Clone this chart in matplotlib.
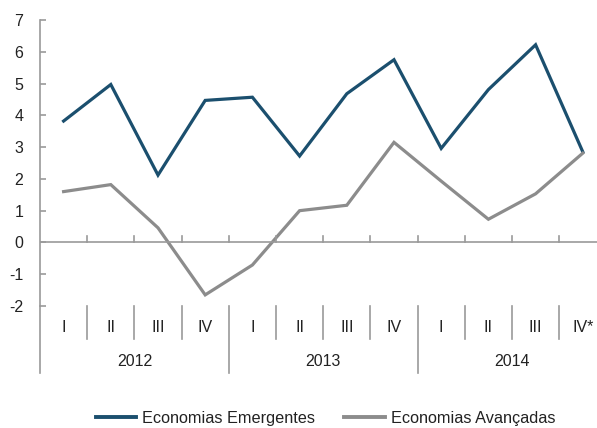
import matplotlib
matplotlib.use("Agg")
import matplotlib.pyplot as plt
from matplotlib.lines import Line2D

plt.rcParams['font.family'] = ['Liberation Sans', 'DejaVu Sans']

quarters = ["I", "II", "III", "IV", "I", "II", "III", "IV", "I", "II", "III", "IV*"]
years = ["2012", "2013", "2014"]
emergentes = [3.82, 4.97, 2.12, 4.47, 4.57, 2.72, 4.68, 5.75, 2.96, 4.81, 6.22, 2.85]
avancadas = [1.60, 1.82, 0.46, -1.65, -0.71, 1.00, 1.17, 3.15, 1.93, 0.73, 1.53, 2.81]
yticks = [-2, -1, 0, 1, 2, 3, 4, 5, 6, 7]

dark = "#1b4f6e"
grey = "#8c8c8c"
axis_col = "#9a9a9a"
text_col = "#222222"

W, H = 597, 428
fig = plt.figure(figsize=(W / 100, H / 100), dpi=100)

left_px, top_px, bottom_px = 40, 20, 306
cat_w = 47.2
n = len(quarters)
ax = fig.add_axes([left_px / W, (H - bottom_px) / H,
                   n * cat_w / W, (bottom_px - top_px) / H])

x = list(range(n))
ax.plot(x, emergentes, color=dark, lw=2.3, solid_joinstyle="miter")
ax.plot(x, avancadas, color=grey, lw=2.3, solid_joinstyle="miter")

ax.set_xlim(-0.5, n - 0.5)
ax.set_ylim(-2, 7)

for s in ["top", "right", "bottom"]:
    ax.spines[s].set_visible(False)
ax.spines["left"].set_color(axis_col)
ax.spines["left"].set_linewidth(1.2)

ax.set_yticks(yticks)
ax.set_yticklabels([str(v) for v in yticks])
ax.tick_params(axis="y", direction="in", length=4, width=1.2, color=axis_col,
               labelsize=11.5, labelcolor=text_col, pad=12)
ax.set_xticks([])

# zero line with small upward ticks at the quarter boundaries
ax.axhline(0, color=axis_col, lw=1.2, xmin=0, xmax=1)
for k in range(1, n):
    ax.plot([k - 0.5, k - 0.5], [0, 0.19], color=axis_col, lw=1.2)

# category table below the plot area
trans = ax.get_xaxis_transform()
px = 1.0 / (bottom_px - top_px)
short_end = -(339 - bottom_px) * px
long_end = -(373 - bottom_px) * px
ax.plot([-0.5, -0.5], [0, long_end], transform=trans, color=axis_col,
        lw=1.2, clip_on=False)
for k in range(1, n):
    end = long_end if k % 4 == 0 else short_end
    ax.plot([k - 0.5, k - 0.5], [0, end], transform=trans, color=axis_col,
            lw=1.2, clip_on=False)

q_y = -(328 - bottom_px) * px
y_y = -(361 - bottom_px) * px
for i, q in enumerate(quarters):
    ax.text(i, q_y, q, transform=trans, ha="center", va="center",
            fontsize=11.5, color=text_col, clip_on=False)
for j, yr in enumerate(years):
    ax.text(4 * j + 1.5, y_y, yr, transform=trans, ha="center", va="center",
            fontsize=11.5, color=text_col, clip_on=False)

handles = [Line2D([], [], color=dark, lw=2.8),
           Line2D([], [], color=grey, lw=2.8)]
fig.legend(handles, ["Economias Emergentes", "Economias Avançadas"],
           loc="center", bbox_to_anchor=(325.5 / W, (H - 418) / H),
           ncol=2, frameon=False, fontsize=11.7, handlelength=2.5,
           handletextpad=0.35, columnspacing=1.8, labelcolor=text_col)

fig.savefig("out.png", dpi=100)
